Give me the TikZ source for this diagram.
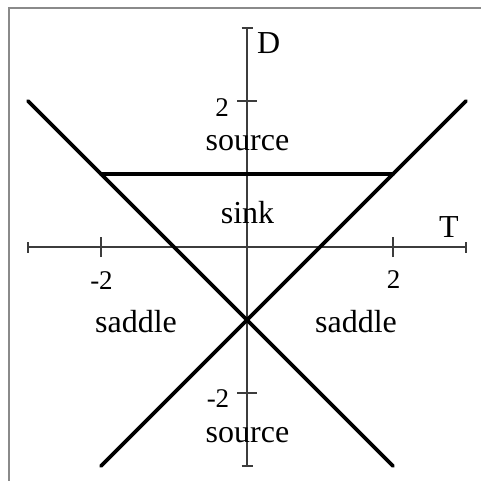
\documentclass[tikz,border=0pt]{standalone}
\usepackage{fontspec}
\setmainfont{Liberation Serif}
\definecolor{axiscol}{HTML}{3C3C3C}
\definecolor{framecol}{HTML}{8A8A8A}
\tikzset{
  axisline/.style={draw=axiscol, line width=1.8pt},
  boundary/.style={draw=black, line width=3.6pt, line cap=round},
  word/.style={inner sep=0pt, anchor=base, font=\fontsize{32}{38}\selectfont},
  num/.style={inner sep=0pt, anchor=base, font=\fontsize{27}{32}\selectfont},
}
\begin{document}
\begin{tikzpicture}[x=1pt,y=-1pt]
\useasboundingbox (0,0) rectangle (481,481);
\coordinate (f1) at (9,481);
\coordinate (f2) at (9,8);
\coordinate (f3) at (481,8);
\draw[framecol, line width=2pt] (f1) -- (f2) -- (f3);
\begin{scope}[shift={(247,247)}, x=73pt, y=73pt]
  \coordinate (xl) at (-3,0);
  \coordinate (xr) at (3,0);
  \coordinate (yb) at (0,-3);
  \coordinate (yt) at (0,3);
  \coordinate (xm) at (-2,0);
  \coordinate (xp) at (2,0);
  \coordinate (ym) at (0,-2);
  \coordinate (yp) at (0,2);
  \draw[axisline] (xl) -- (xr);
  \draw[axisline] (yb) -- (yt);
  % end ticks
  \draw[axisline] (xl) ++(0,-5.5pt) -- ++(0,11pt);
  \draw[axisline] (xr) ++(0,-5.5pt) -- ++(0,11pt);
  \draw[axisline] (yb) ++(-5.5pt,0) -- ++(11pt,0);
  \draw[axisline] (yt) ++(-5.5pt,0) -- ++(11pt,0);
  % inner ticks
  \draw[axisline] (xm) ++(0,-10pt) -- ++(0,20pt);
  \draw[axisline] (xp) ++(0,-10pt) -- ++(0,20pt);
  \draw[axisline] (ym) ++(-10pt,0) -- ++(20pt,0);
  \draw[axisline] (yp) ++(-10pt,0) -- ++(20pt,0);
  % boundaries
  \coordinate (a1) at (-3,2);
  \coordinate (a2) at (2,-3);
  \coordinate (b1) at (-2,-3);
  \coordinate (b2) at (3,2);
  \coordinate (h1) at (-2,1);
  \coordinate (h2) at (2,1);
  \draw[boundary] (a1) -- (a2);
  \draw[boundary] (b1) -- (b2);
  \draw[boundary] (h1) -- (h2);
\end{scope}
\node[word] (src1) at (247.5,150) {source};
\node[word] (sink) at (247.5,223) {sink};
\node[word] (sadl) at (136,332) {saddle};
\node[word] (sadr) at (356,332) {saddle};
\node[word] (src2) at (247.5,442) {source};
\node[inner sep=0pt, anchor=base west, font=\fontsize{32}{38}\selectfont] (D) at (257,54) {D};
\node[word] (T) at (449,237) {T};
\node[num] (n1) at (222,117) {2};
\node[num] (n2) at (101.5,289) {-2};
\node[num] (n3) at (393.5,288) {2};
\node[num] (n4) at (218,407) {-2};
\end{tikzpicture}
\end{document}
